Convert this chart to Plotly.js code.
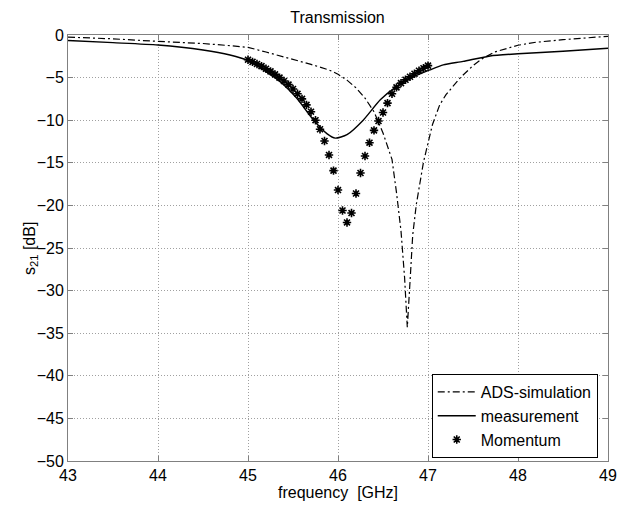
<!DOCTYPE html>
<html>
<head>
<meta charset="utf-8">
<script src="https://cdn.plot.ly/plotly-3.0.1.min.js"></script>
<style>html,body{margin:0;padding:0;background:#fff;}#chart{width:625px;height:507px;}</style>
</head>
<body>
<div id="chart"></div>
<script>
// ADS-simulation (dash-dot)
const adsFreq = [43.0, 43.5, 44.0, 44.5, 44.8, 45.0, 45.2, 45.5, 45.7, 45.9, 46.0, 46.1, 46.2, 46.3, 46.4, 46.5, 46.6, 46.65, 46.7, 46.74, 46.77, 46.8, 46.83, 46.87, 46.95, 47.05, 47.13, 47.2, 47.36, 47.5, 47.6, 47.74, 48.0, 48.2, 48.5, 49.0];
const adsS21 = [-0.25, -0.45, -0.75, -1.0, -1.25, -1.45, -2.0, -2.85, -3.45, -4.1, -4.6, -5.3, -6.2, -7.4, -9.0, -11.5, -14.6, -18.5, -23.0, -28.5, -34.3, -29.0, -23.5, -19.9, -14.9, -10.5, -8.2, -7.0, -5.0, -3.6, -2.8, -2.0, -1.2, -0.85, -0.55, -0.15];

// measurement (solid)
const measFreq = [43.0, 43.5, 44.0, 44.5, 44.8, 45.0, 45.17, 45.36, 45.54, 45.73, 45.88, 45.97, 46.1, 46.28, 46.47, 46.65, 46.84, 47.02, 47.17, 47.39, 47.69, 48.0, 48.5, 49.0];
const measS21 = [-0.65, -0.9, -1.17, -1.76, -2.35, -3.0, -4.1, -5.5, -7.4, -10.0, -11.6, -12.1, -11.7, -10.0, -7.6, -6.05, -4.9, -4.1, -3.5, -3.1, -2.46, -2.2, -1.9, -1.55];

// Momentum (asterisks)
const momFreq = [45.00, 45.05, 45.10, 45.15, 45.20, 45.25, 45.30, 45.35, 45.40, 45.45, 45.50, 45.55, 45.60, 45.65, 45.70, 45.75, 45.80, 45.85, 45.90, 45.95, 46.00, 46.05, 46.10, 46.15, 46.20, 46.25, 46.30, 46.35, 46.40, 46.45, 46.50, 46.55, 46.60, 46.65, 46.70, 46.75, 46.80, 46.85, 46.90, 46.95, 47.00];
const momS21 = [-2.9, -3.15, -3.4, -3.65, -3.96, -4.27, -4.62, -5.0, -5.4, -5.83, -6.34, -6.9, -7.5, -8.2, -9.0, -10.0, -11.06, -12.44, -14.08, -15.92, -18.2, -20.6, -22.0, -20.9, -18.6, -16.2, -14.2, -12.64, -11.2, -10.1, -9.1, -8.0, -6.9, -6.15, -5.65, -5.25, -4.9, -4.55, -4.2, -3.9, -3.6];

const fontFam = '"Liberation Sans", Arial, sans-serif';

const traces = [
  {x: adsFreq, y: adsS21, mode: 'lines', name: 'ADS-simulation',
   line: {color: '#000', width: 1.2, dash: '7px,3px,2px,3px'}},
  {x: measFreq, y: measS21, mode: 'lines', name: 'measurement',
   line: {color: '#000', width: 1.4, shape: 'spline', smoothing: 0.6}},
  {x: momFreq, y: momS21, mode: 'markers', name: 'Momentum',
   marker: {symbol: 'asterisk-open', size: 7, color: '#000', line: {color: '#000', width: 1.6}}}
];

const axisCommon = {
  showline: true, linecolor: '#808080', linewidth: 1, mirror: 'ticks',
  ticks: 'inside', ticklen: 5, tickcolor: '#808080',
  showgrid: true, gridcolor: '#a0a0a0', griddash: '1px,2px', gridwidth: 1,
  zeroline: false,
  tickfont: {family: fontFam, size: 16, color: '#000'}
};

const layout = {
  width: 625, height: 507,
  margin: {l: 68, r: 17, t: 35, b: 46},
  paper_bgcolor: '#fff', plot_bgcolor: '#fff',
  title: {text: 'Transmission', font: {family: fontFam, size: 16, color: '#000'},
          x: 0.54, xanchor: 'center', y: 0.966, yanchor: 'middle'},
  xaxis: Object.assign({}, axisCommon, {
    range: [43, 49], dtick: 1, tick0: 43,
    title: {text: 'frequency  [GHz]', font: {family: fontFam, size: 16, color: '#000'}, standoff: 1}
  }),
  yaxis: Object.assign({}, axisCommon, {
    range: [-50, 0], dtick: 5, tick0: 0
  }),
  annotations: [{
    text: 's<sub>21</sub> [dB]', xref: 'paper', yref: 'paper',
    x: -0.0704, y: 0.5, xanchor: 'center', yanchor: 'middle',
    textangle: -90, showarrow: false,
    font: {family: fontFam, size: 16, color: '#000'}
  }],
  showlegend: true,
  legend: {x: 0.981, y: 0.007, xanchor: 'right', yanchor: 'bottom',
           bgcolor: '#fff', bordercolor: '#000', borderwidth: 1,
           font: {family: fontFam, size: 16, color: '#000'},
           tracegroupgap: 0, itemwidth: 38}
};

Plotly.newPlot('chart', traces, layout, {staticPlot: true, displayModeBar: false});
</script>
</body>
</html>
